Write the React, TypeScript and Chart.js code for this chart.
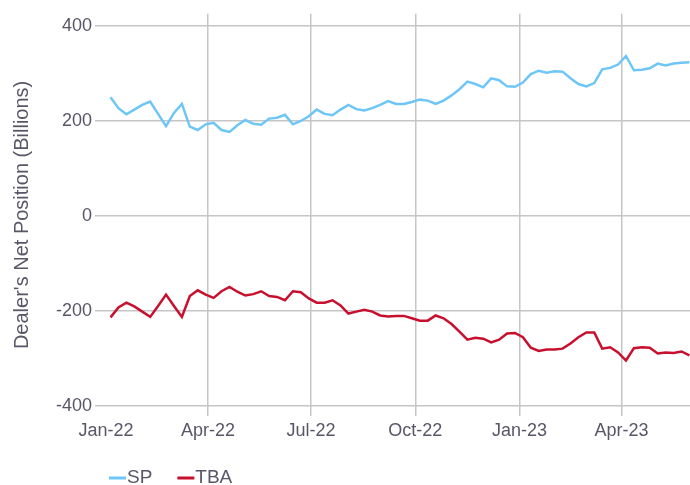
import React, { useEffect, useRef } from "react";
import { Chart, registerables } from "chart.js";

Chart.register(...registerables);

const weekDates = [
  "2022-01-05", "2022-01-12", "2022-01-19", "2022-01-26",
  "2022-02-02", "2022-02-09", "2022-02-16", "2022-02-23",
  "2022-03-02", "2022-03-09", "2022-03-16", "2022-03-23", "2022-03-30",
  "2022-04-06", "2022-04-13", "2022-04-20", "2022-04-27",
  "2022-05-04", "2022-05-11", "2022-05-18", "2022-05-25",
  "2022-06-01", "2022-06-08", "2022-06-15", "2022-06-22", "2022-06-29",
  "2022-07-06", "2022-07-13", "2022-07-20", "2022-07-27",
  "2022-08-03", "2022-08-10", "2022-08-17", "2022-08-24", "2022-08-31",
  "2022-09-07", "2022-09-14", "2022-09-21", "2022-09-28",
  "2022-10-05", "2022-10-12", "2022-10-19", "2022-10-26",
  "2022-11-02", "2022-11-09", "2022-11-16", "2022-11-23", "2022-11-30",
  "2022-12-07", "2022-12-14", "2022-12-21", "2022-12-28",
  "2023-01-04", "2023-01-11", "2023-01-18", "2023-01-25",
  "2023-02-01", "2023-02-08", "2023-02-15", "2023-02-22",
  "2023-03-01", "2023-03-08", "2023-03-15", "2023-03-22", "2023-03-29",
  "2023-04-05", "2023-04-12", "2023-04-19", "2023-04-26",
  "2023-05-03", "2023-05-10", "2023-05-17", "2023-05-24", "2023-05-31",
];

const spValues = [
  250, 227, 214, 224, 234, 241, 215, 189, 217, 236,
  188, 181, 193, 196, 181, 177, 191, 202, 194, 192,
  205, 207, 213, 193, 200, 210, 224, 215, 212, 224,
  234, 225, 222, 227, 234, 242, 236, 236, 240, 245,
  243, 236, 243, 254, 267, 283, 278, 271, 290, 286,
  273, 272, 281, 299, 306, 302, 305, 304, 290, 278,
  273, 280, 309, 312, 319, 337, 307, 308, 311, 321,
  317, 321, 323, 324,
];

const tbaValues = [
  -214, -193, -183, -191, -202, -213, -190, -166, -190, -213,
  -169, -157, -166, -173, -159, -150, -160, -168, -165, -159,
  -169, -171, -178, -159, -161, -174, -183, -183, -178, -189,
  -206, -202, -198, -202, -210, -212, -211, -211, -216, -221,
  -221, -210, -216, -228, -244, -261, -257, -259, -267, -261,
  -248, -247, -256, -278, -285, -282, -282, -280, -269, -256,
  -246, -246, -280, -277, -288, -305, -279, -277, -278, -290,
  -288, -289, -286, -294,
];

const xTickDates = ["2022-01-01", "2022-04-01", "2022-07-01", "2022-10-01", "2023-01-01", "2023-04-01"];
const xTickLabels = ["Jan-22", "Apr-22", "Jul-22", "Oct-22", "Jan-23", "Apr-23"];
const yTickValues = [-400, -200, 0, 200, 400];

const seriesNames = ["SP", "TBA"];
const seriesColors = ["#6ec6f7", "#c8102e"];

const ORIGIN = Date.UTC(2022, 0, 1);
const toDay = (s: string) => {
  const [y, m, d] = s.split("-").map(Number);
  return (Date.UTC(y, m - 1, d) - ORIGIN) / 86400000;
};

const FONT = "'Liberation Sans', Arial, Helvetica, sans-serif";
const TEXT = "#575768";
const GRID = "#c6c6c6";

export default function App() {
  const ref = useRef<HTMLCanvasElement | null>(null);

  useEffect(() => {
    document.body.style.margin = "0";
    if (!ref.current) return;
    const days = weekDates.map(toDay);
    const tickDays = xTickDates.map(toDay);

    const legendPlugin = {
      id: "customLegend",
      afterDraw(chart: any) {
        const ctx = chart.ctx;
        const left = chart.chartArea.left + 14;
        const y = 478;
        ctx.save();
        ctx.font = `19px ${FONT}`;
        ctx.textBaseline = "middle";
        ctx.textAlign = "left";
        let x = left;
        seriesNames.forEach((name, i) => {
          ctx.strokeStyle = seriesColors[i];
          ctx.lineWidth = 3;
          ctx.beginPath();
          ctx.moveTo(x, y);
          ctx.lineTo(x + 17, y);
          ctx.stroke();
          ctx.fillStyle = TEXT;
          ctx.fillText(name, x + 18, y);
          x += 18 + ctx.measureText(name).width + 25;
        });
        ctx.restore();
      },
    };

    const chart = new Chart(ref.current, {
      type: "line",
      data: {
        datasets: [
          {
            label: seriesNames[0],
            data: spValues.map((v, i) => ({ x: days[i], y: v })),
            borderColor: seriesColors[0],
            backgroundColor: seriesColors[0],
            borderWidth: 2.5,
            pointRadius: 0,
            tension: 0,
          },
          {
            label: seriesNames[1],
            data: tbaValues.map((v, i) => ({ x: days[i], y: v })),
            borderColor: seriesColors[1],
            backgroundColor: seriesColors[1],
            borderWidth: 2.5,
            pointRadius: 0,
            tension: 0,
          },
        ],
      },
      options: {
        animation: false,
        responsive: true,
        maintainAspectRatio: false,
        layout: { padding: { top: 10, right: 0, left: 0, bottom: 0 } },
        plugins: {
          legend: { display: false },
          tooltip: { enabled: false },
        },
        scales: {
          x: {
            type: "linear",
            min: -9.7,
            max: 515.5,
            border: { display: false },
            grid: {
              drawTicks: false,
              lineWidth: 1.5,
              color: (c: any) => (c.tick && c.tick.value === tickDays[0] ? "rgba(0,0,0,0)" : GRID),
            },
            afterBuildTicks: (scale: any) => {
              scale.ticks = tickDays.map((v) => ({ value: v }));
            },
            afterFit: (scale: any) => {
              scale.height = 69;
            },
            ticks: {
              autoSkip: false,
              maxRotation: 0,
              padding: 4,
              color: TEXT,
              font: { family: FONT, size: 18 },
              callback: (_v: any, i: number) => xTickLabels[i],
            },
          },
          y: {
            type: "linear",
            min: -422,
            max: 426,
            border: { display: false },
            grid: { drawTicks: false, lineWidth: 1.5, color: GRID },
            afterBuildTicks: (scale: any) => {
              scale.ticks = yTickValues.map((v) => ({ value: v }));
            },
            afterFit: (scale: any) => {
              scale.width = 95;
            },
            ticks: {
              padding: 3,
              color: TEXT,
              font: { family: FONT, size: 18 },
              callback: (v: any) => String(v),
            },
            title: {
              display: true,
              text: "Dealer's Net Position (Billions)",
              color: TEXT,
              font: { family: FONT, size: 20 },
              padding: { top: 10, bottom: 0 },
            },
          },
        },
      },
      plugins: [legendPlugin],
    });
    return () => chart.destroy();
  }, []);

  return (
    <div style={{ position: "relative", width: 690, height: 485 }}>
      <canvas ref={ref} />
    </div>
  );
}
